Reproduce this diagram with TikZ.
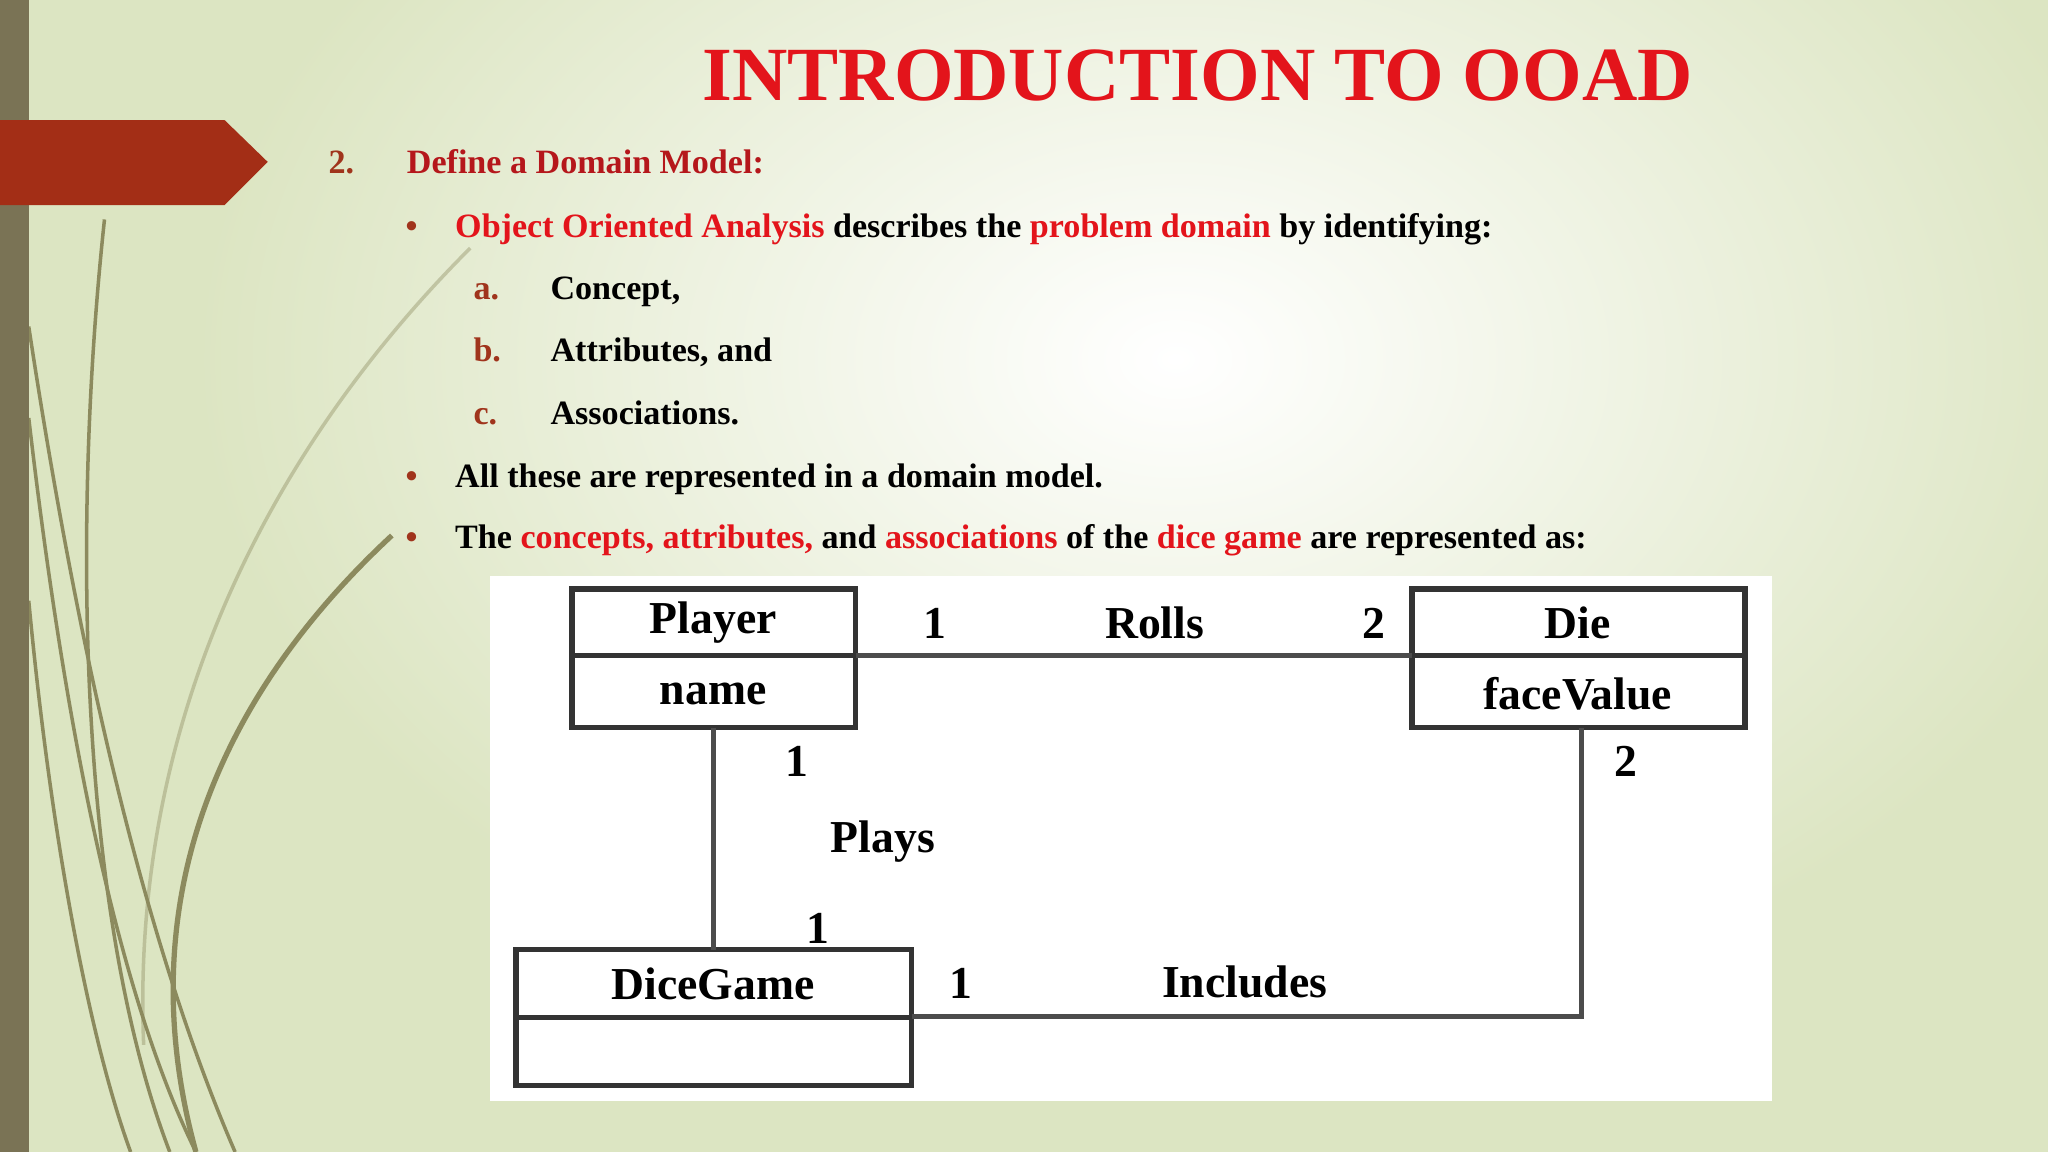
\documentclass[tikz,border=0pt]{standalone}
\usepackage{fontspec}
\setmainfont{Liberation Serif}
\definecolor{bgg}{HTML}{DCE5C2}
\definecolor{olive}{HTML}{7A7355}
\definecolor{arrowred}{HTML}{A32E16}
\definecolor{hred}{HTML}{E3141B}
\definecolor{dred}{HTML}{A0341C}
\definecolor{h2red}{HTML}{B5171B}
\definecolor{curve}{HTML}{8C8A5E}
\tikzset{
  body/.style={anchor=base west,inner sep=0pt,font=\fontsize{9.7pt}{12pt}\selectfont\bfseries},
  box/.style={draw=black!80,line width=1.6pt},
  lab/.style={inner sep=0pt,font=\fontsize{13pt}{15pt}\selectfont\bfseries},
  conn/.style={draw=black!70,line width=1.4pt}
}
\begin{document}
\begin{tikzpicture}[x=0.01306cm,y=-0.01306cm]
\useasboundingbox (0,0) rectangle (1568,882);
\fill[bgg] (0,0) rectangle (1568,882);
\shade[inner color=white,outer color=bgg] (150,-250) rectangle (1650,800);
% curves
\begin{scope}[curve,line width=1pt]
\draw (80,168) .. controls (55,400) and (60,700) .. (130,882);
\draw (22,250) .. controls (60,500) and (110,720) .. (180,882);
\draw (22,320) .. controls (50,560) and (90,760) .. (150,882);
\draw (22,460) .. controls (40,650) and (70,800) .. (100,882);
\draw[line width=1.5pt] (300,410) .. controls (160,540) and (100,700) .. (150,882);
\draw[opacity=0.4] (360,190) .. controls (200,350) and (100,560) .. (110,800);
\end{scope}
\fill[olive] (0,0) rectangle (22,882);
\fill[arrowred] (0,92) -- (172,92) -- (205,124) -- (172,157) -- (0,157) -- cycle;
% title
\node[inner sep=0pt,text=hred,font=\fontsize{21.8pt}{26pt}\selectfont\bfseries] (title) at (917,58) {INTRODUCTION TO OOAD};
% text
\node[body,text=dred] (n2) at (251,133) {2.};
\node[body,text=h2red] (h2) at (311,133) {Define a Domain Model:};
\node[body,text=dred] (b1) at (310,182) {\textbullet};
\node[body] (t1) at (348,182) {\textcolor{hred}{Object Oriented Analysis} describes the \textcolor{hred}{problem domain} by identifying:};
\node[body,text=dred] (la) at (362,229) {a.};
\node[body] (ta) at (421,229) {Concept,};
\node[body,text=dred] (lb) at (362,277) {b.};
\node[body] (tb) at (421,277) {Attributes, and};
\node[body,text=dred] (lc) at (362,325) {c.};
\node[body] (tc) at (421,325) {Associations.};
\node[body,text=dred] (b2) at (310,373) {\textbullet};
\node[body] (t2) at (348,373) {All these are represented in a domain model.};
\node[body,text=dred] (b3) at (310,420) {\textbullet};
\node[body] (t3) at (348,420) {The \textcolor{hred}{concepts, attributes,} and \textcolor{hred}{associations} of the \textcolor{hred}{dice game} are represented as:};
% diagram
\fill[white] (375,441) rectangle (1357,843);
\draw[box] (438,451) rectangle (655,557); \draw[box] (438,502) -- (655,502);
\draw[box] (1081,451) rectangle (1336,557); \draw[box] (1081,502) -- (1336,502);
\draw[box] (395,727) rectangle (698,831); \draw[box] (395,779) -- (698,779);
\node[lab] (player) at (546,477) {Player};
\node[lab] (name) at (546,531) {name};
\node[lab] (die) at (1208,477) {Die};
\node[lab] (face) at (1208,531) {faceValue};
\node[lab] (dg) at (546,753) {DiceGame};
\coordinate (pr) at (655,502); \coordinate (dl) at (1081,502);
\coordinate (pb) at (546,557); \coordinate (gt) at (546,727);
\coordinate (db) at (1211,557); \coordinate (corner) at (1211,778); \coordinate (gr) at (698,778);
\draw[conn] (pr) -- (dl);
\draw[conn] (pb) -- (gt);
\draw[conn] (db) -- (corner) -- (gr);
\node[lab] (r1) at (716,477) {1};
\node[lab] (rolls) at (884,477) {Rolls};
\node[lab] (r2) at (1052,477) {2};
\node[lab] (p1) at (610,583) {1};
\node[lab] (plays) at (676,644) {Plays};
\node[lab] (p2) at (626,711) {1};
\node[lab] (d2) at (1245,583) {2};
\node[lab] (i1) at (736,753) {1};
\node[lab] (inc) at (953,752) {Includes};
\end{tikzpicture}
\end{document}
